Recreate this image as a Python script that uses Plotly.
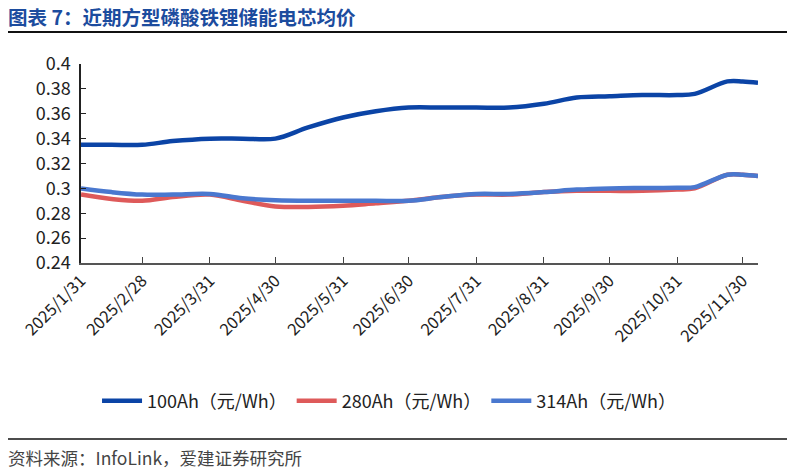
import plotly.graph_objects as go

dates = ["2025-01-31", "2025-02-14", "2025-02-28", "2025-03-14", "2025-03-31",
         "2025-04-15", "2025-04-30", "2025-05-15", "2025-05-31", "2025-06-15",
         "2025-06-30", "2025-07-15", "2025-07-31", "2025-08-15", "2025-08-31",
         "2025-09-15", "2025-09-30", "2025-10-15", "2025-10-31", "2025-11-08",
         "2025-11-23", "2025-11-30", "2025-12-07"]

s100 = [0.335, 0.335, 0.335, 0.338, 0.340, 0.340, 0.340, 0.349, 0.357, 0.362,
        0.365, 0.365, 0.365, 0.365, 0.368, 0.373, 0.374, 0.375, 0.375, 0.376,
        0.386, 0.386, 0.385]
s280 = [0.295, 0.2915, 0.290, 0.293, 0.295, 0.290, 0.2855, 0.285, 0.286, 0.288,
        0.290, 0.293, 0.295, 0.295, 0.297, 0.298, 0.298, 0.298, 0.299, 0.300,
        0.311, 0.311, 0.310]
s314 = [0.300, 0.297, 0.295, 0.295, 0.2955, 0.292, 0.2905, 0.290, 0.290, 0.290,
        0.290, 0.293, 0.2955, 0.2955, 0.297, 0.299, 0.300, 0.3003, 0.3005, 0.301,
        0.311, 0.311, 0.310]

names = ["100Ah（元/Wh）", "280Ah（元/Wh）", "314Ah（元/Wh）"]
colors = ["#0B44A6", "#DE5A5A", "#4A78CF"]

tick_dates = ["2025-01-31", "2025-02-28", "2025-03-31", "2025-04-30", "2025-05-31",
              "2025-06-30", "2025-07-31", "2025-08-31", "2025-09-30", "2025-10-31",
              "2025-11-30"]
tick_text = ["2025/1/31", "2025/2/28", "2025/3/31", "2025/4/30", "2025/5/31",
             "2025/6/30", "2025/7/31", "2025/8/31", "2025/9/30", "2025/10/31",
             "2025/11/30"]

y_ticks = [0.24, 0.26, 0.28, 0.3, 0.32, 0.34, 0.36, 0.38, 0.4]
y_text = ["0.24", "0.26", "0.28", "0.3", "0.32", "0.34", "0.36", "0.38", "0.4"]

FONT = "Noto Sans CJK SC"

fig = go.Figure()
for ys, nm, c in zip([s100, s280, s314], names, colors):
    fig.add_trace(go.Scatter(x=dates, y=ys, name=nm, mode="lines",
                             line=dict(color=c, width=4.5, shape="spline", smoothing=1.0)))

W, H = 787, 470
L, R, T, B = 81, 29, 64, 207
pw, ph = W - L - R, H - T - B

def px(x):
    return (x - L) / pw

def py(y):
    return (H - B - y) / ph

fig.update_layout(
    width=W, height=H,
    margin=dict(l=L, r=R, t=T, b=B),
    paper_bgcolor="white", plot_bgcolor="white",
    font=dict(family=FONT, color="#222222", size=16),
    showlegend=True,
    legend=dict(orientation="h", x=0.455, xanchor="center", y=py(401), yanchor="middle",
                font=dict(size=18, color="#222222"), itemwidth=40, tracegroupgap=0,
                bgcolor="rgba(0,0,0,0)"),
    xaxis=dict(type="date", range=["2025-01-31", "2025-12-07"],
               tickvals=tick_dates, ticktext=tick_text, tickangle=-45,
               ticks="inside", ticklen=6, tickcolor="#444444", tickwidth=1.3,
               showline=True, linecolor="#555555", linewidth=1.5,
               showgrid=False, zeroline=False,
               tickfont=dict(size=16.5, color="#222222")),
    yaxis=dict(range=[0.24, 0.4], tickvals=y_ticks, ticktext=y_text,
               ticks="inside", ticklen=5, tickcolor="#222222", tickwidth=1.3,
               showline=True, linecolor="#222222", linewidth=1.5,
               showgrid=False, zeroline=False, ticklabelstandoff=5,
               tickfont=dict(size=18, color="#222222")),
)

# title
fig.add_annotation(xref="paper", yref="paper", x=px(6), y=py(17), xanchor="left", yanchor="middle",
                   text="<b>图表 7：近期方型磷酸铁锂储能电芯均价</b>", showarrow=False,
                   font=dict(family=FONT, size=19.5, color="#1C4C9E"))
fig.add_shape(type="line", xref="paper", yref="paper", x0=px(8), x1=px(787), y0=py(32), y1=py(32),
              line=dict(color="#111111", width=2))
# source
fig.add_annotation(xref="paper", yref="paper", x=px(6), y=py(457), xanchor="left", yanchor="middle",
                   text="资料来源：InfoLink，爱建证券研究所", showarrow=False,
                   font=dict(family=FONT, size=17.5, color="#444444"))
fig.add_shape(type="line", xref="paper", yref="paper", x0=px(8), x1=px(787), y0=py(439), y1=py(439),
              line=dict(color="#111111", width=1.5))

fig.write_html("out.html")
